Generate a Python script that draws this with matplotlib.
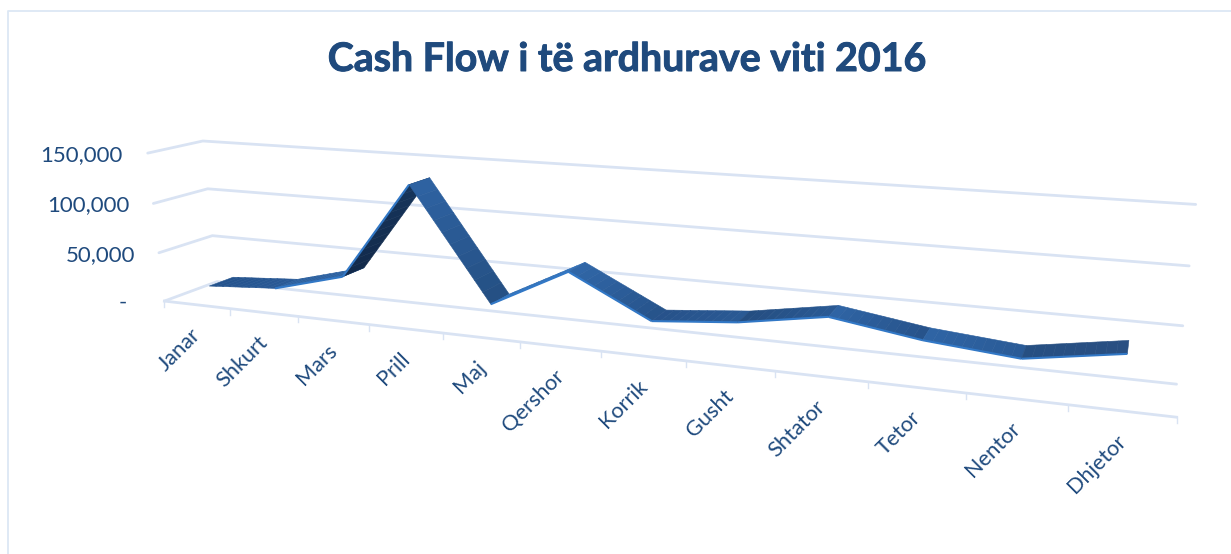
import matplotlib
matplotlib.use("Agg")
import matplotlib.pyplot as plt
import matplotlib.patheffects as pe
from matplotlib.colors import to_rgb
import numpy as np

# data
months = ["Janar", "Shkurt", "Mars", "Prill", "Maj", "Qershor", "Korrik",
          "Gusht", "Shtator", "Tetor", "Nentor", "Dhjetor"]
values = [14000, 19000, 38000, 133000, 26000, 64000, 26000, 33000, 46000, 34000, 27000, 40000]
y_ticks = [0, 50000, 100000, 150000]
y_labels = ["-", "50,000", "100,000", "150,000"]
title = "Cash Flow i të ardhurave viti 2016"

# colours of each ribbon piece, start and end of the shading
seg_start = ["#24538c", "#2c609f", "#12294a", "#2e63a3", "#3472b8", "#3067a8",
             "#27528a", "#244d80", "#2f65a5", "#2f65a5", "#264f82"]
seg_end = ["#2a5a96", "#2d62a2", "#17365c", "#244f82", "#3472b8", "#27538a",
           "#2a5a94", "#2a5a94", "#27528a", "#2a5a96", "#294f82"]
# front edge highlight, off where the top of the ribbon hides it
seg_edge = [0, 1, 1, 0, 1, 1, 1, 1, 1, 1, 1]

NAVY = "#1f4a7d"
GRID = "#d9e3f3"
FONT = "Lato"

# camera calibration: (month pos, value / 100k, depth) -> reference pixel
anchors = [
    (0, 0, 0, 165, 301), (3, 0, 0, 369, 325), (6, 0, 0, 602, 351),
    (9, 0, 0, 867, 381), (12, 0, 0, 1177, 417),
    (0, 0.5, 0, 158, 253), (0, 1, 0, 153, 204), (0, 1.5, 0, 148, 153),
    (0, 0, 1, 217, 281), (0, 0.5, 1, 212, 236), (0, 1, 1, 208, 188.5), (0, 1.5, 1, 203, 141),
    (12, 0, 1, 1177, 385), (12, 0.5, 1, 1182, 326), (12, 1, 1, 1189, 266), (12, 1.5, 1, 1196, 204),
]
rows, rhs = [], []
for a, b, c, px, py in anchors:
    rows.append([a, b, c, 1, 0, 0, 0, 0, -a * px, -b * px, -c * px])
    rows.append([0, 0, 0, 0, a, b, c, 1, -a * py, -b * py, -c * py])
    rhs += [px, py]
cam = np.append(np.linalg.lstsq(np.array(rows, float), np.array(rhs, float), rcond=None)[0], 1).reshape(3, 4)


def project(pos, value, depth):
    p = cam @ np.array([pos, value / 100000, depth, 1.0])
    return p[0] / p[2], p[1] / p[2]


fig = plt.figure(figsize=(12.31, 5.54), dpi=100)
ax = fig.add_axes([0, 0, 1, 1])
ax.set_xlim(0, 1231)
ax.set_ylim(554, 0)
ax.axis("off")

# chart border
ax.plot([8, 8, 1231], [554, 11, 11], color="#dce7f4", lw=1.3)

ax.text(626.5, 59.5, title, color=NAVY, fontsize=28.3, fontweight="bold", family=FONT,
        ha="center", va="center",
        path_effects=[pe.withStroke(linewidth=0.7, foreground=NAVY)])

# walls and floor
n = len(months)
y_pad = [37, 24, 24, 25]
for tick, label, pad in zip(y_ticks, y_labels, y_pad):
    pts = [project(0, tick, 0), project(0, tick, 1), project(n, tick, 1)]
    ax.plot(*zip(*pts), color=GRID, lw=2.0, solid_capstyle="round")
    ax.text(pts[0][0] - pad, pts[0][1] + 2, label, color=NAVY, fontsize=16, family=FONT,
            ha="right", va="center")
ax.plot(*zip(project(0, 0, 0), project(n, 0, 0)), color=GRID, lw=2.0)
for i in range(n + 1):
    tx, ty = project(i, 0, 0)
    ax.plot([tx, tx], [ty, ty + 6], color=GRID, lw=1)

# month labels
for i, name in enumerate(months):
    tx, ty = project(i + 0.5, 0, 0)
    ax.text(tx + 1, ty + 27, name, color=NAVY, fontsize=15.7, family=FONT, rotation=45,
            rotation_mode="anchor", ha="right", va="center")

# ribbon, one piece per month step, later pieces lie over earlier ones
FRONT, BACK = 0.26, 0.72
for i in range(n - 1):
    c0, c1 = np.array(to_rgb(seg_start[i])), np.array(to_rgb(seg_end[i]))
    steps = np.linspace(0, 1, 11)
    for s0, s1 in zip(steps[:-1], steps[1:]):
        v0 = values[i] + (values[i + 1] - values[i]) * s0
        v1 = values[i] + (values[i + 1] - values[i]) * s1
        poly = [project(i + 0.5 + s0, v0, FRONT), project(i + 0.5 + s0, v0, BACK),
                project(i + 0.5 + s1, v1, BACK), project(i + 0.5 + s1, v1, FRONT)]
        col = c0 + (c1 - c0) * (s0 + s1) / 2
        ax.fill(*zip(*poly), color=col, lw=0.4, zorder=3 + i * 0.1)
    if seg_edge[i]:
        ax.plot(*zip(project(i + 0.5, values[i], FRONT), project(i + 1.5, values[i + 1], FRONT)),
                color="#3278c6", lw=1.5, zorder=3 + i * 0.1 + 0.01, solid_capstyle="butt")

fig.savefig("out.png", dpi=100)
